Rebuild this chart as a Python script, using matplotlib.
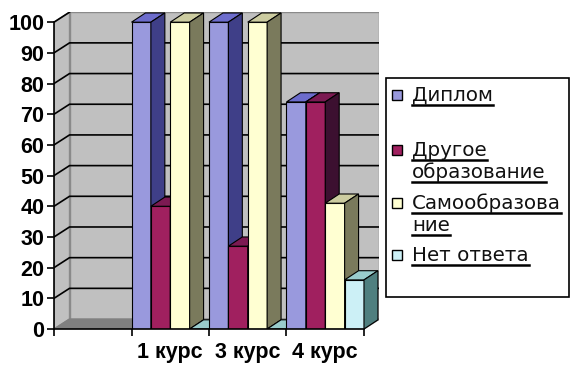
import matplotlib
matplotlib.use("Agg")
import matplotlib.pyplot as plt
from matplotlib.patches import Polygon, Rectangle
from matplotlib.lines import Line2D
import numpy as np

plt.rcParams["font.family"] = ["Liberation Sans", "DejaVu Sans"]

# first category slot is left empty on purpose
categories = ["", "1 курс", "3 курс", "4 курс"]
series_labels = ["Диплом", "Другое\nобразование", "Самообразова\nние", "Нет ответа"]
diplom = [None, 100, 100, 74]
other_edu = [None, 40, 27, 74]
self_edu = [None, 100, 100, 41]
no_answer = [None, 0, 0, 16]
y_ticks = list(range(0, 101, 10))

series = [diplom, other_edu, self_edu, no_answer]
front_c = ["#9999dd", "#a0205f", "#ffffd2", "#ccf0f6"]
top_c = ["#6c6ccc", "#7c1a52", "#cccca0", "#99cccc"]
side_c = ["#3f3f88", "#3c1030", "#7a7a5c", "#4f7f7f"]

DX, DY = 0.2, 3.25      # wall depth (data units)
BDX, BDY = 0.18, 3.0    # bar depth

fig = plt.figure(figsize=(5.71, 3.65), dpi=100)
ax = fig.add_axes([0.0946, 0.0986, 0.570, 0.868])
n = len(categories)
ax.set_xlim(0, n + DX)
ax.set_ylim(0, 100 + DY)
ax.patch.set_visible(False)

# walls and floor
wall = "#c0c0c0"
ax.add_patch(Polygon([(DX, DY), (n + DX, DY), (n + DX, 100 + DY), (DX, 100 + DY)],
                     closed=True, fc=wall, ec="#8a8a8a", lw=1, zorder=0))
ax.add_patch(Polygon([(0, 0), (DX, DY), (DX, 100 + DY), (0, 100)],
                     closed=True, fc=wall, ec="#8a8a8a", lw=1, zorder=0))
ax.add_patch(Polygon([(0, 0), (n, 0), (n + DX, DY), (DX, DY)],
                     closed=True, fc="#808080", ec="#808080", lw=1, zorder=0.5))
for y in y_ticks[1:-1]:
    ax.plot([0, DX, n + DX], [y, y + DY, y + DY], color="black", lw=1.2, zorder=1)
ax.plot([0, DX], [100, 100 + DY], color="black", lw=1.2, zorder=1)

# 3d-looking bars, drawn left to right so later fronts hide earlier sides
w = 1.0 / len(series)
for i in range(n):
    for j, vals in enumerate(series):
        v = vals[i]
        if v is None:
            continue
        x0 = i + j * w
        z = 2 + i * 10 + j
        ax.bar(x0, v, width=w, align="edge", color=front_c[j], edgecolor="black",
               linewidth=0.8, zorder=z)
        ax.add_patch(Polygon([(x0, v), (x0 + w, v), (x0 + w + BDX, v + BDY), (x0 + BDX, v + BDY)],
                             closed=True, fc=top_c[j], ec="black", lw=0.8, zorder=z))
        ax.add_patch(Polygon([(x0 + w, 0), (x0 + w + BDX, BDY), (x0 + w + BDX, v + BDY), (x0 + w, v)],
                             closed=True, fc=side_c[j], ec="black", lw=0.8, zorder=z))

for s in ["top", "right"]:
    ax.spines[s].set_visible(False)
ax.spines["left"].set_bounds(0, 100)
ax.spines["bottom"].set_bounds(0, n)
for s in ["left", "bottom"]:
    ax.spines[s].set_linewidth(1.2)
    ax.spines[s].set_zorder(100)

ax.set_yticks(y_ticks)
ax.tick_params(axis="y", direction="out", length=5, width=1.2, labelsize=15.5, pad=2)
ax.set_xticks(range(n + 1))
ax.set_xticklabels([])
ax.set_xticks(np.arange(n) + 0.5, categories, minor=True)
ax.tick_params(axis="x", which="major", direction="out", length=5, width=1.2)
ax.tick_params(axis="x", which="minor", length=0, labelsize=15.5, pad=9)
for lbl in ax.get_yticklabels() + ax.get_xticklabels(minor=True):
    lbl.set_fontweight("bold")

# legend box (pixel-like units, y downwards)
lw_px, lh_px = 183, 219
lax = fig.add_axes([386 / 571, (365 - 297) / 365, lw_px / 571, lh_px / 365])
lax.set_xlim(0, lw_px)
lax.set_ylim(lh_px, 0)
lax.axis("off")
lax.add_patch(Rectangle((0, 0), 1, 1, transform=lax.transAxes, fc="white",
                        ec="black", lw=1.2, clip_on=False))

marker_y = [17, 72, 125, 177]
line_gap = 22
texts = []
for j, label in enumerate(series_labels):
    my = marker_y[j]
    lax.add_patch(Rectangle((6, my - 5), 10, 10, fc=front_c[j], ec="black", lw=1))
    for k, line in enumerate(label.split("\n")):
        t = lax.text(26, my + 6 + k * line_gap, line, fontsize=14.3, va="baseline",
                     ha="left", clip_on=True, color="#111111",
                     family=["DejaVu Sans"])
        texts.append(t)

# underline every legend line
fig.canvas.draw()
renderer = fig.canvas.get_renderer()
inv = lax.transData.inverted()
for t in texts:
    bb = t.get_window_extent(renderer)
    x_a, _ = inv.transform((bb.x0, bb.y0))
    x_b, _ = inv.transform((bb.x1, bb.y0))
    yb = t.get_position()[1] + 4
    lax.add_line(Line2D([x_a, min(x_b, lw_px)], [yb, yb], color="black", lw=1.8))

fig.savefig("out.png", dpi=100, facecolor="white")
